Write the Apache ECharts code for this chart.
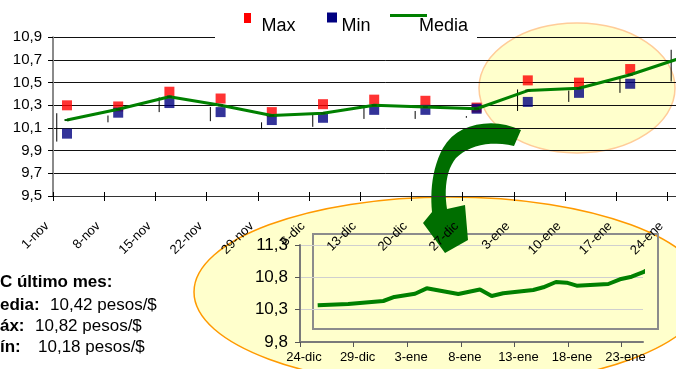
<!DOCTYPE html>
<html>
<head>
<meta charset="utf-8">
<script src="https://cdn.jsdelivr.net/npm/echarts@6/dist/echarts.min.js"></script>
<style>
  html, body { margin: 0; padding: 0; background: #ffffff; overflow: hidden; width: 676px; height: 369px; }
  /* the plot runs past the right edge of the page, as in the original layout */
  #chart { width: 724px; height: 369px; }
</style>
</head>
<body>
<div id="chart"></div>
<script>
// Weekly exchange rate (pesos per dollar): max, min, average and daily range
const categories = ['1-nov', '8-nov', '15-nov', '22-nov', '29-nov', '6-dic', '13-dic',
                    '20-dic', '27-dic', '3-ene', '10-ene', '17-ene', '24-ene'];
const maxValues   = [10.30, 10.29, 10.42, 10.36, 10.24, 10.31, 10.35, 10.34, 10.28, 10.52, 10.50, 10.62, 10.84];
const minValues   = [10.05, 10.235, 10.32, 10.24, 10.17, 10.19, 10.26, 10.26, 10.27, 10.33, 10.41, 10.49, 10.62];
const mediaValues = [10.17, 10.265, 10.376, 10.30, 10.21, 10.23, 10.30, 10.285, 10.27, 10.43, 10.45, 10.57, 10.72];
const rangeHigh   = [10.23, 10.21, 10.37, 10.285, 10.15, 10.23, 10.28, 10.25, 10.205, 10.44, 10.43, 10.54, 10.79];
const rangeLow    = [9.98, 10.15, 10.24, 10.16, 10.09, 10.11, 10.18, 10.18, 10.19, 10.25, 10.33, 10.41, 10.51];

// Daily detail for the last month (days counted from 24-dic)
const insetDays   = [1.65, 4.5, 7.77, 8.8, 10.73, 11.82, 14.77, 16.79, 17.88, 18.96, 21.76,
                     22.7, 23.88, 24.88, 25.81, 28.76, 29.85, 30.94, 32.02, 32.9];
const insetValues = [10.367, 10.388, 10.434, 10.496, 10.547, 10.63, 10.542, 10.612, 10.511, 10.553, 10.604,
                     10.646, 10.728, 10.717, 10.671, 10.697, 10.77, 10.81, 10.88, 10.965];
const insetTickLabels = ['24-dic', '29-dic', '3-ene', '8-ene', '13-ene', '18-ene', '23-ene'];

// Summary box
const summaryTitle  = 'TC último mes:';
const summaryLabels = ['Media:', 'Máx:', 'Mín:'];
const summaryValues = ['10,42 pesos/$', '10,82 pesos/$', '10,18 pesos/$'];

const FONT = "'Liberation Sans', Arial, Helvetica, sans-serif";
const comma1 = v => v.toFixed(1).replace('.', ',');

// tick slots: one per week plus the closing boundary
const tickSlots = categories.concat(['']);

// sample a cubic bezier into polygon points
function cubic(p0, p1, p2, p3, n) {
  const pts = [];
  for (let k = 1; k <= n; k++) {
    const t = k / n, u = 1 - t;
    pts.push([
      u * u * u * p0[0] + 3 * u * u * t * p1[0] + 3 * u * t * t * p2[0] + t * t * t * p3[0],
      u * u * u * p0[1] + 3 * u * u * t * p1[1] + 3 * u * t * t * p2[1] + t * t * t * p3[1]
    ]);
  }
  return pts;
}
// curved arrow outline
const arrowPts = [[521, 130]]
  .concat(cubic([521, 130], [492, 117], [457, 123], [443, 148], 12))
  .concat(cubic([443, 148], [432, 168], [430, 192], [432, 212], 12))
  .concat([[423, 223], [445, 253], [468, 240], [465, 205], [447, 209]])
  .concat(cubic([447, 209], [444, 190], [446, 170], [456, 158], 12))
  .concat(cubic([456, 158], [468, 146], [490, 140], [514, 146], 12));

const chart = echarts.init(document.getElementById('chart'), null, { renderer: 'canvas' });

const summaryGraphics = [
  { type: 'text', z: 20, style: { text: summaryTitle, x: -10.4, y: 282, font: 'bold 17px ' + FONT, fill: '#000', verticalAlign: 'middle', textVerticalAlign: 'middle' } }
];
const rowY = [305, 326.5, 347];
const valueX = [50, 35, 38];
summaryLabels.forEach((lab, i) => {
  summaryGraphics.push({ type: 'text', z: 20, style: { text: lab, x: -14.2, y: rowY[i], font: 'bold 17px ' + FONT, fill: '#000', verticalAlign: 'middle', textVerticalAlign: 'middle' } });
  summaryGraphics.push({ type: 'text', z: 20, style: { text: summaryValues[i], x: valueX[i], y: rowY[i], font: '17px ' + FONT, fill: '#000', verticalAlign: 'middle', textVerticalAlign: 'middle' } });
});

const option = {
  animation: false,
  textStyle: { fontFamily: FONT },
  grid: [
    { left: 53, top: 37.3, width: 665.6, height: 158.7 },
    { left: 47, top: 37.3, width: 665.6, height: 158.7 },
    { left: 300, top: 245, width: 343, height: 97 },
    { left: 304, top: 245, width: 343, height: 97 }
  ],
  xAxis: [
    // data positions
    { gridIndex: 0, type: 'value', min: -0.2734, max: 12.7266, show: false },
    // week boundaries: axis line and outer ticks
    { gridIndex: 0, type: 'category', position: 'bottom', data: tickSlots, boundaryGap: false,
      axisLine: { show: true, onZero: false, lineStyle: { color: '#333', width: 1 } },
      axisTick: { show: true, inside: false, length: 5, interval: 0, lineStyle: { color: '#000', width: 1 } },
      axisLabel: { show: false }, splitLine: { show: false } },
    // inner half of the crossing ticks
    { gridIndex: 0, type: 'category', position: 'bottom', data: tickSlots, boundaryGap: false,
      axisLine: { show: false, onZero: false },
      axisTick: { show: true, inside: true, length: 4, interval: 0, lineStyle: { color: '#000', width: 1 } },
      axisLabel: { show: false }, splitLine: { show: false } },
    // rotated week labels
    { gridIndex: 1, type: 'category', position: 'bottom', data: tickSlots, boundaryGap: false,
      axisLine: { show: false, onZero: false }, axisTick: { show: false }, splitLine: { show: false },
      axisLabel: { show: true, interval: 0, rotate: 45, margin: 28, fontSize: 13, color: '#000', fontFamily: FONT } },
    // daily detail axis: line and ticks
    { gridIndex: 2, type: 'value', min: 0, max: 32, interval: 5, z: -2,
      axisLine: { show: true, onZero: false, lineStyle: { color: '#7a7a7a', width: 2 } },
      axisTick: { show: true, length: 5, customValues: [0, 5, 10, 15, 20, 25, 30], lineStyle: { color: '#555', width: 1 } },
      axisLabel: { show: false }, splitLine: { show: false } },
    // daily detail axis: date labels
    { gridIndex: 3, type: 'value', min: 0, max: 32, interval: 5, z: -2,
      axisLine: { show: false, onZero: false }, axisTick: { show: false }, splitLine: { show: false },
      axisLabel: { show: true, margin: 9, fontSize: 13, color: '#000', fontFamily: FONT,
        customValues: [0, 5, 10, 15, 20, 25, 30],
        formatter: v => insetTickLabels[Math.round(v / 5)] || '' } }
  ],
  yAxis: [
    { gridIndex: 0, type: 'value', min: 9.5, max: 10.9, interval: 0.2,
      axisLine: { show: true, onZero: false, lineStyle: { color: '#8a8a8a', width: 2 } },
      axisTick: { show: true, length: 5, lineStyle: { color: '#000', width: 1 } },
      axisLabel: { show: true, margin: 11, fontSize: 15, color: '#000', fontFamily: FONT, formatter: comma1 },
      splitLine: { show: true, lineStyle: { color: '#111', width: 1 } } },
    { gridIndex: 1, type: 'value', show: false, min: 9.5, max: 10.9 },
    { gridIndex: 2, type: 'value', min: 9.8, max: 11.3, interval: 0.5, z: -2,
      axisLine: { show: true, onZero: false, lineStyle: { color: '#7a7a7a', width: 2 } },
      axisTick: { show: true, length: 5, lineStyle: { color: '#555', width: 1 } },
      axisLabel: { show: true, margin: 12, fontSize: 17, color: '#000', fontFamily: FONT, formatter: comma1 },
      splitLine: { show: true, lineStyle: { color: '#cfcfcf', width: 1 } } },
    { gridIndex: 3, type: 'value', show: false, min: 9.8, max: 11.3 }
  ],
  series: [
    {
      name: 'Rango', type: 'custom', xAxisIndex: 0, yAxisIndex: 0, z: 2,
      data: categories.map((c, i) => [i, rangeHigh[i], rangeLow[i]]),
      encode: { x: 0, y: [1, 2] },
      renderItem: (params, api) => {
        const x = api.value(0) - 0.2;
        const p1 = api.coord([x, api.value(1)]);
        const p2 = api.coord([x, api.value(2)]);
        return { type: 'line', shape: { x1: p1[0], y1: p1[1], x2: p2[0], y2: p2[1] },
                 style: { stroke: '#000', lineWidth: 1 } };
      }
    },
    {
      name: 'Max', type: 'scatter', xAxisIndex: 0, yAxisIndex: 0, z: 3,
      symbol: 'rect', symbolSize: 10, itemStyle: { color: '#ff0000' },
      data: maxValues.map((v, i) => [i, v])
    },
    {
      name: 'Min', type: 'scatter', xAxisIndex: 0, yAxisIndex: 0, z: 4,
      symbol: 'rect', symbolSize: 10, itemStyle: { color: '#000080' },
      data: minValues.map((v, i) => [i, v])
    },
    {
      name: 'Media', type: 'line', xAxisIndex: 0, yAxisIndex: 0, z: 5, clip: false,
      lineStyle: { color: '#008000', width: 3 },
      symbol: 'rect', symbolSize: [5, 2], showSymbol: true, itemStyle: { color: '#005a00' },
      data: mediaValues.map((v, i) => [i, v])
    },
    {
      name: 'Diario', type: 'line', xAxisIndex: 4, yAxisIndex: 2, z: -1, clip: false,
      lineStyle: { color: '#008000', width: 4 }, symbol: 'none',
      data: insetDays.map((d, i) => [d, insetValues[i]])
    }
  ],
  graphic: {
    elements: [
      // highlight around the last weeks
      { type: 'ellipse', z: -10, shape: { cx: 577, cy: 88, rx: 98, ry: 65 },
        style: { fill: '#ffffcc', stroke: '#ffcc99', lineWidth: 1.5 } },
      // large callout holding the daily detail
      { type: 'ellipse', z: -10, shape: { cx: 450, cy: 292, rx: 256, ry: 95 },
        style: { fill: '#ffffcc', stroke: '#ff9900', lineWidth: 1.5 } },
      // frame of the detail plot
      { type: 'rect', z: -3, shape: { x: 313, y: 234, width: 345, height: 95 },
        style: { fill: 'none', stroke: '#8c8c8c', lineWidth: 2 } },
      // curved arrow pointing to the detail
      { type: 'polygon', z: -1.5, shape: { points: arrowPts },
        style: { fill: '#006e00', stroke: 'none' } },
      // legend
      { type: 'rect', z: 10, shape: { x: 215, y: 0, width: 262, height: 40 }, style: { fill: '#ffffff' } },
      { type: 'rect', z: 11, shape: { x: 244, y: 13, width: 7, height: 10 }, style: { fill: '#ff0000' } },
      { type: 'text', z: 11, style: { text: 'Max', x: 261.5, y: 26, font: '18px ' + FONT, fill: '#000', verticalAlign: 'middle', textVerticalAlign: 'middle' } },
      { type: 'rect', z: 11, shape: { x: 327, y: 12.5, width: 10, height: 10 }, style: { fill: '#000080' } },
      { type: 'text', z: 11, style: { text: 'Min', x: 341.5, y: 26, font: '18px ' + FONT, fill: '#000', verticalAlign: 'middle', textVerticalAlign: 'middle' } },
      { type: 'line', z: 11, shape: { x1: 390, y1: 15.5, x2: 427, y2: 15.5 }, style: { stroke: '#008000', lineWidth: 3 } },
      { type: 'text', z: 11, style: { text: 'Media', x: 419, y: 26, font: '18px ' + FONT, fill: '#000', verticalAlign: 'middle', textVerticalAlign: 'middle' } }
    ].concat(summaryGraphics)
  }
};

chart.setOption(option);
</script>
</body>
</html>
